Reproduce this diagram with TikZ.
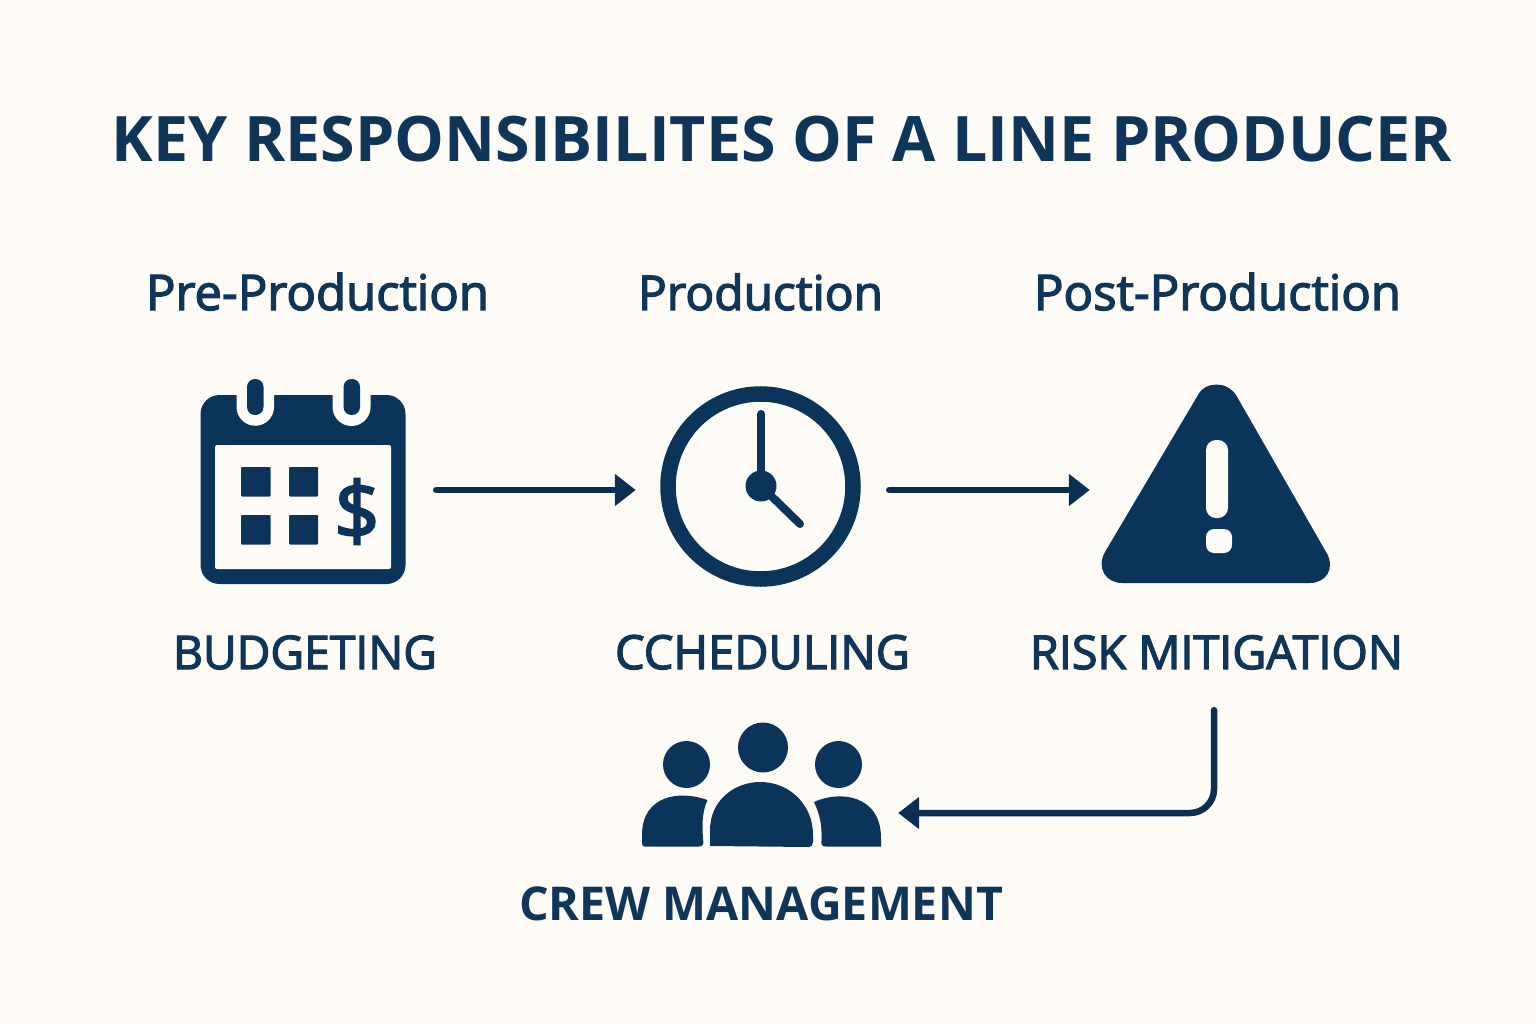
\documentclass[tikz,border=0pt]{standalone}
\usepackage{fontspec}
\usepackage{graphicx}
\setmainfont{Open Sans}
\usetikzlibrary{arrows.meta}
\definecolor{paper}{HTML}{FFFBF6}
\definecolor{navy}{HTML}{0A345A}
\definecolor{ink}{HTML}{0F3659}
\definecolor{wire}{HTML}{0B2F50}
\newcommand{\fitw}[2]{\resizebox{#1pt}{!}{#2}}
\newcommand{\medw}[2][1.3]{\special{pdf:code 2 Tr #1 w}#2\special{pdf:code 0 Tr 0 w}}
\tikzset{
  icon/.style={fill=navy,draw=none},
  hole/.style={fill=paper,draw=none},
  anchorbox/.style={draw=none,fill=none,inner sep=0pt,minimum height=#1},
  txt/.style={anchor=base,text=ink,inner sep=0pt,font=\fontsize{48}{48}\selectfont},
  flow/.style={draw=wire,line width=6.5pt,line cap=round,-{Triangle[length=21pt,width=31pt]}}
}
\begin{document}
\begin{tikzpicture}[x=1pt,y=-1pt]
\fill[paper] (0,0) rectangle (1536,1024);
\useasboundingbox (0,0) rectangle (1536,1024);

% title and texts
\node[txt] (title) at (782,162) {\fitw{1340}{\bfseries KEY RESPONSIBILITES OF A LINE PRODUCER}};
\node[txt] (pre) at (317.5,310) {\fitw{343}{\medw{Pre-Production}}};
\node[txt] (prod) at (760.5,310) {\fitw{245}{\medw{Production}}};
\node[txt] (post) at (1217.5,310) {\fitw{367}{\medw{Post-Production}}};
\node[txt] (lbudget) at (305,669) {\fitw{264}{\medw{BUDGETING}}};
\node[txt] (lsched) at (762.5,669) {\fitw{295}{\medw{CCHEDULING}}};
\node[txt] (lrisk) at (1216.5,669) {\fitw{373}{\medw{RISK MITIGATION}}};
\node[txt] (lcrew) at (761,920) {\fitw{484}{\bfseries CREW MANAGEMENT}};

% connector anchors around the icons
\node[anchorbox=40pt,minimum width=259pt] (cal) at (306.5,490) {};
\node[anchorbox=40pt,minimum width=253pt] (clock) at (762.5,490) {};
\node[anchorbox=440pt,minimum width=248pt] (warn) at (1214,490) {};
\node[anchorbox=40pt,minimum width=274pt] (crew) at (761,813) {};

% calendar
\fill[icon,rounded corners=19pt] (200.5,395) rectangle (405.5,584);
\fill[hole] (236.5,390) -- (236.5,407) arc[start angle=180,end angle=0,x radius=18.75pt,y radius=-18.75pt] -- (274,390) -- cycle;
\fill[hole] (332.5,390) -- (332.5,407) arc[start angle=180,end angle=0,x radius=19pt,y radius=-19pt] -- (370.5,390) -- cycle;
\fill[paper,rounded corners=2pt] (215,445) rectangle (391,569);
\fill[icon,rounded corners=8pt] (247,379) rectangle (263.5,415);
\fill[icon,rounded corners=8pt] (343.5,379) rectangle (360,415);
\fill[icon,rounded corners=1pt] (241,467) rectangle (270.5,496.5);
\fill[icon,rounded corners=1pt] (289,467) rectangle (318,496.5);
\fill[icon,rounded corners=1pt] (241,515) rectangle (270.5,544.5);
\fill[icon,rounded corners=1pt] (289,515) rectangle (318,544.5);
\node[anchor=center,inner sep=0pt,text=navy,font=\fontsize{80}{80}\selectfont] (dollar) at (357,511.5) {\medw[2.2]{\$}};

% clock
\draw[navy,line width=15.5pt] (760.5,486.5) circle[radius=92.5pt];
\draw[navy,line width=8pt,line cap=round] (761,486) -- (761,414);
\draw[navy,line width=8pt,line cap=round] (761,486) -- (800,524);
\fill[navy] (761,486) circle[radius=15.5pt];

% warning triangle
\fill[icon] (1198,395) .. controls (1205,381) and (1227,381) .. (1236,395)
  -- (1326,552) .. controls (1336,568) and (1326,583) .. (1310,583)
  -- (1122,583) .. controls (1106,583) and (1096,568) .. (1105,552) -- cycle;
\fill[hole,rounded corners=10pt] (1206,440) rectangle (1228,518);
\fill[hole,rounded corners=8pt] (1206,529) rectangle (1232,553);

% crew
\fill[navy] (763,747.5) ellipse[x radius=25pt,y radius=25pt];
\fill[navy] (686.5,764.5) ellipse[x radius=23.5pt,y radius=23.5pt];
\fill[navy] (838.5,764.5) ellipse[x radius=23.5pt,y radius=23.5pt];
\fill[icon] (710,846) -- (710,830) .. controls (710,800) and (735,782) .. (760,782)
  .. controls (790,782) and (813,805) .. (813,835) -- (813,842)
  .. controls (813,845) and (811,847) .. (809,847) -- cycle;
\fill[icon] (707.5,800) .. controls (680,790) and (642,795) .. (642,835) -- (642,843)
  .. controls (642,846) and (643,846.5) .. (645,846.5) -- (699,846.5)
  .. controls (703,846.5) and (704,844) .. (703,838)
  .. controls (702,825) and (702,812) .. (707.5,800) -- cycle;
\fill[icon] (814,802) .. controls (840,790) and (881,795) .. (881,838) -- (881,846.5)
  -- (826,846.5) .. controls (822,846.5) and (821,845) .. (821.5,840)
  .. controls (822,825) and (820,815) .. (814,802) -- cycle;

% connectors
\draw[flow] (cal.east) -- (clock.west);
\draw[flow] (clock.east) -- (warn.west);
\draw[flow,rounded corners=24pt] (warn.south) |- (crew.east);
\end{tikzpicture}
\end{document}
